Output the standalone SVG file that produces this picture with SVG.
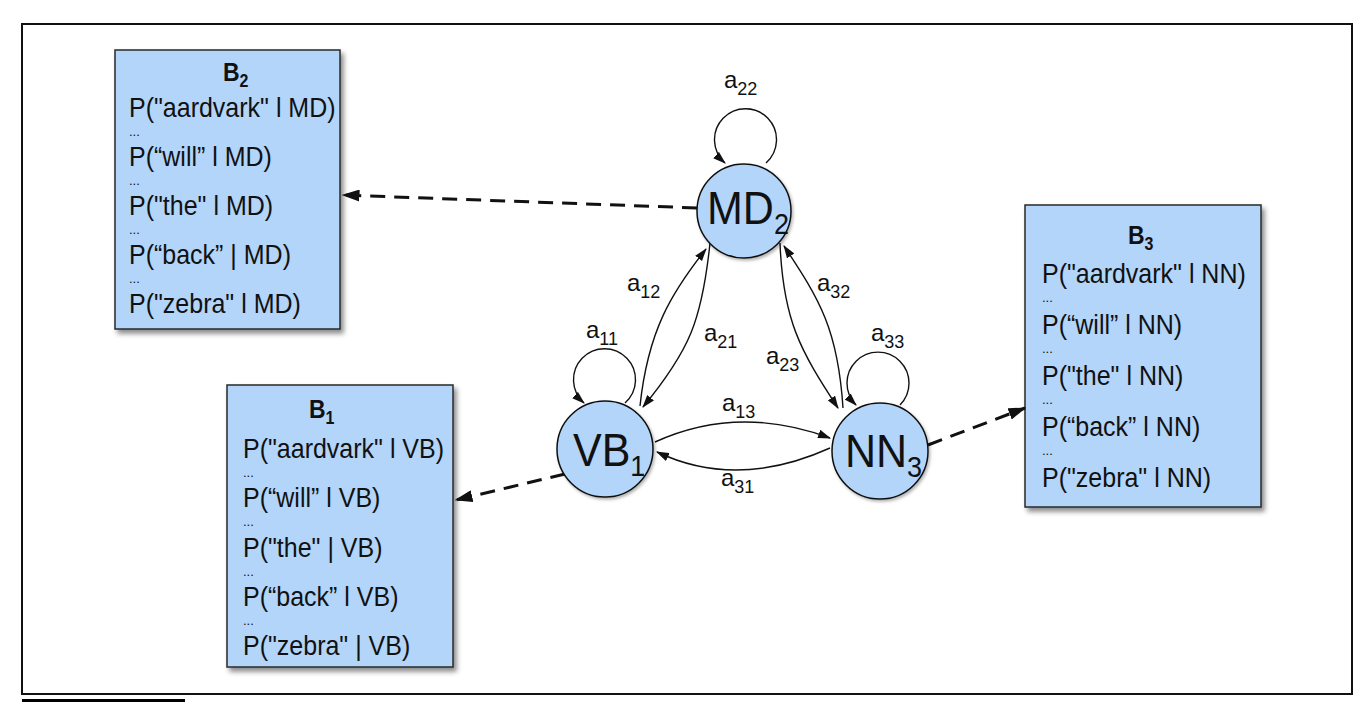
<svg xmlns="http://www.w3.org/2000/svg" width="1366" height="702" viewBox="0 0 1366 702">
<defs>
<style>
.box{fill:#b3d5fa;stroke:#2a2a2a;stroke-width:1.5;filter:url(#sh)}
.node{fill:#b3d5fa;stroke:#111;stroke-width:1.5;filter:url(#sh2)}
.t{font-family:"Liberation Sans",Arial,sans-serif;font-size:25px;fill:#111}
.d{font-family:"Liberation Sans",Arial,sans-serif;font-size:13px;fill:#111}
.ti{font-family:"Liberation Sans",Arial,sans-serif;font-size:23px;font-weight:bold;fill:#111}
.nl{font-family:"Liberation Sans",Arial,sans-serif;font-size:43px;fill:#111}
.el{font-family:"Liberation Sans",Arial,sans-serif;font-size:24px;fill:#111}
.e{fill:none;stroke:#111;stroke-width:1.4;marker-end:url(#arr)}
.dash{fill:none;stroke:#111;stroke-width:3;stroke-dasharray:15,9;marker-end:url(#arrD)}
</style>
<filter id="sh" x="-10%" y="-10%" width="130%" height="130%">
<feDropShadow dx="3" dy="4" stdDeviation="2.5" flood-color="#000" flood-opacity="0.45"/>
</filter>
<filter id="sh2" x="-10%" y="-10%" width="130%" height="130%">
<feDropShadow dx="1.5" dy="2" stdDeviation="1.5" flood-color="#000" flood-opacity="0.3"/>
</filter>
<marker id="arr" viewBox="0 0 12 8" refX="11" refY="4" markerWidth="13" markerHeight="9" markerUnits="userSpaceOnUse" orient="auto">
<path d="M0,0 L12,4 L0,8 z" fill="#111"/>
</marker>
<marker id="arrD" viewBox="0 0 12 8" refX="11" refY="4" markerWidth="18" markerHeight="12" markerUnits="userSpaceOnUse" orient="auto">
<path d="M0,0 L12,4 L0,8 z" fill="#111"/>
</marker>
</defs>
<rect x="0" y="0" width="1366" height="702" fill="#fff"/>
<rect x="22" y="24" width="1330" height="670" fill="none" stroke="#111" stroke-width="2"/>
<rect x="22" y="699" width="163" height="3" fill="#000"/>

<g id="B2">
<rect class="box" x="115" y="50" width="225" height="279"/>
<text class="ti" transform="translate(223,81) scale(1,1.1)">B<tspan font-size="16" dy="5">2</tspan></text>
<text class="t" transform="translate(129,117) scale(1,1.1)">P("aardvark" l MD)</text>
<text class="d" x="129" y="136">...</text>
<text class="t" transform="translate(129,166) scale(1,1.1)">P(“will” l MD)</text>
<text class="d" x="129" y="185">...</text>
<text class="t" transform="translate(129,215) scale(1,1.1)">P("the" l MD)</text>
<text class="d" x="129" y="234">...</text>
<text class="t" transform="translate(129,264) scale(1,1.1)">P(“back” | MD)</text>
<text class="d" x="129" y="283">...</text>
<text class="t" transform="translate(129,313) scale(1,1.1)">P("zebra" l MD)</text>
</g>

<g id="B1">
<rect class="box" x="227" y="385" width="226" height="282"/>
<text class="ti" transform="translate(309,418) scale(1,1.1)">B<tspan font-size="16" dy="5">1</tspan></text>
<text class="t" transform="translate(243,458) scale(1,1.1)">P("aardvark" l VB)</text>
<text class="d" x="243" y="477">...</text>
<text class="t" transform="translate(243,507) scale(1,1.1)">P(“will” l VB)</text>
<text class="d" x="243" y="526">...</text>
<text class="t" transform="translate(243,557) scale(1,1.1)">P("the" | VB)</text>
<text class="d" x="243" y="576">...</text>
<text class="t" transform="translate(243,606) scale(1,1.1)">P(“back” l VB)</text>
<text class="d" x="243" y="625">...</text>
<text class="t" transform="translate(243,655) scale(1,1.1)">P("zebra" | VB)</text>
</g>

<g id="B3">
<rect class="box" x="1025" y="205" width="236" height="302"/>
<text class="ti" transform="translate(1128,244) scale(1,1.1)">B<tspan font-size="16" dy="5">3</tspan></text>
<text class="t" transform="translate(1042,283) scale(1,1.1)">P("aardvark" l NN)</text>
<text class="d" x="1042" y="302">...</text>
<text class="t" transform="translate(1042,334) scale(1,1.1)">P(“will” l NN)</text>
<text class="d" x="1042" y="353">...</text>
<text class="t" transform="translate(1042,385) scale(1,1.1)">P("the" l NN)</text>
<text class="d" x="1042" y="404">...</text>
<text class="t" transform="translate(1042,436) scale(1,1.1)">P(“back” l NN)</text>
<text class="d" x="1042" y="455">...</text>
<text class="t" transform="translate(1042,487) scale(1,1.1)">P("zebra" l NN)</text>
</g>

<g id="connectors">
<path class="dash" d="M697,208 L343,195"/>
<path class="dash" d="M565,474 L456,500"/>
<path class="dash" d="M928,445 L1025,408"/>
<path class="e" d="M766,163 A31,31 0 1 0 725,163"/>
<path class="e" d="M625,403 A31,31 0 1 0 584,403"/>
<path class="e" d="M900,405 A31,31 0 1 0 856,405"/>
<path class="e" d="M640,406 C648,330 672,292 706,249"/>
<path class="e" d="M710,243 C702,320 690,350 643,407"/>
<path class="e" d="M780,243 C783,320 800,350 838,408"/>
<path class="e" d="M843,408 C838,330 820,300 784,246"/>
<path class="e" d="M655,442 Q738,404 830,438"/>
<path class="e" d="M830,448 Q737,490 657,452"/>
<text class="el" x="724" y="88">a<tspan font-size="18" dy="7">22</tspan></text>
<text class="el" x="627" y="291">a<tspan font-size="18" dy="7">12</tspan></text>
<text class="el" x="586" y="338">a<tspan font-size="18" dy="7">11</tspan></text>
<text class="el" x="704" y="341">a<tspan font-size="18" dy="7">21</tspan></text>
<text class="el" x="766" y="364">a<tspan font-size="18" dy="7">23</tspan></text>
<text class="el" x="817" y="291">a<tspan font-size="18" dy="7">32</tspan></text>
<text class="el" x="871" y="341">a<tspan font-size="18" dy="7">33</tspan></text>
<text class="el" x="722" y="411">a<tspan font-size="18" dy="7">13</tspan></text>
<text class="el" x="721" y="486">a<tspan font-size="18" dy="7">31</tspan></text>
</g>

<g id="MD2">
<circle class="node" cx="744" cy="211" r="47"/>
<text class="nl" transform="translate(707,224) scale(1,1.08)">MD<tspan font-size="27" dy="9">2</tspan></text>
</g>
<g id="VB1">
<circle class="node" cx="605" cy="449" r="48"/>
<text class="nl" transform="translate(573,466) scale(1,1.08)">VB<tspan font-size="27" dy="9">1</tspan></text>
</g>
<g id="NN3">
<circle class="node" cx="880" cy="451" r="48"/>
<text class="nl" transform="translate(845,467) scale(1,1.08)">NN<tspan font-size="27" dy="9">3</tspan></text>
</g>
</svg>
